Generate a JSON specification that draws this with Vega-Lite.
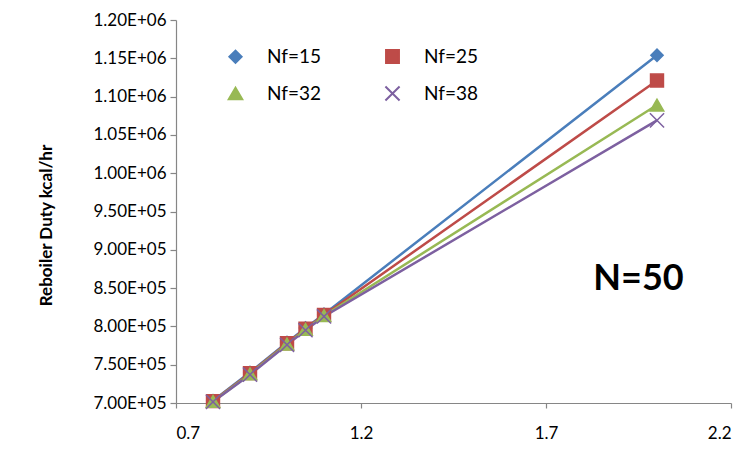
{
  "$schema": "https://vega.github.io/schema/vega-lite/v6.json",
  "autosize": "none",
  "width": 555,
  "height": 383,
  "padding": {"left": 176, "top": 20, "right": 17, "bottom": 52},
  "background": "white",
  "config": {
    "view": {"stroke": null},
    "font": "Lato",
    "axis": {"grid": false, "domainColor": "#868686", "tickColor": "#868686", "labelColor": "#000000", "labelFont": "Lato", "labelFontSize": 17, "domainWidth": 1.2, "tickWidth": 1.2, "tickSize": 6}
  },
  "data": {"values": [
    {"series": "Nf=15", "x": 0.8, "y": 703000},
    {"series": "Nf=15", "x": 0.9, "y": 740000},
    {"series": "Nf=15", "x": 1.0, "y": 779000},
    {"series": "Nf=15", "x": 1.05, "y": 798000},
    {"series": "Nf=15", "x": 1.1, "y": 816000},
    {"series": "Nf=15", "x": 2.0, "y": 1154000},
    {"series": "Nf=25", "x": 0.8, "y": 702500},
    {"series": "Nf=25", "x": 0.9, "y": 739000},
    {"series": "Nf=25", "x": 1.0, "y": 778000},
    {"series": "Nf=25", "x": 1.05, "y": 797000},
    {"series": "Nf=25", "x": 1.1, "y": 815000},
    {"series": "Nf=25", "x": 2.0, "y": 1121000},
    {"series": "Nf=32", "x": 0.8, "y": 702000},
    {"series": "Nf=32", "x": 0.9, "y": 738000},
    {"series": "Nf=32", "x": 1.0, "y": 777000},
    {"series": "Nf=32", "x": 1.05, "y": 796000},
    {"series": "Nf=32", "x": 1.1, "y": 814000},
    {"series": "Nf=32", "x": 2.0, "y": 1089000},
    {"series": "Nf=38", "x": 0.8, "y": 701500},
    {"series": "Nf=38", "x": 0.9, "y": 737000},
    {"series": "Nf=38", "x": 1.0, "y": 776000},
    {"series": "Nf=38", "x": 1.05, "y": 795000},
    {"series": "Nf=38", "x": 1.1, "y": 813000},
    {"series": "Nf=38", "x": 2.0, "y": 1069000}
  ]},
  "encoding": {
    "x": {"field": "x", "type": "quantitative", "scale": {"domain": [0.7, 2.2], "nice": false, "zero": false},
      "axis": {"values": [0.7, 1.2, 1.7, 2.2], "format": ".1f", "title": null, "labelPadding": 17, "tickSize": 5}},
    "y": {"field": "y", "type": "quantitative", "scale": {"domain": [700000, 1200000], "nice": false, "zero": false},
      "axis": {"values": [700000, 750000, 800000, 850000, 900000, 950000, 1000000, 1050000, 1100000, 1150000, 1200000],
        "labelExpr": "format(datum.value/pow(10, floor(log(datum.value)/LN10+1e-9)), '.2f') + 'E+' + format(floor(log(datum.value)/LN10+1e-9), '02d')",
        "title": "Reboiler Duty kcal/hr", "titleFont": "Lato", "titleFontSize": 17, "titleFontWeight": "bold", "titleColor": "#000000", "titlePadding": 38, "titleY": 205, "labelPadding": 4}}
  },
  "layer": [
    {
      "mark": {"type": "line", "strokeWidth": 2.5},
      "encoding": {
        "color": {"field": "series", "type": "nominal", "scale": {"domain": ["Nf=15", "Nf=25", "Nf=32", "Nf=38"], "range": ["#4a7ebb", "#be4b48", "#98b954", "#7d60a0"]},
          "legend": {
            "title": null, "orient": "none", "legendX": 50, "legendY": 27, "direction": "horizontal", "columns": 2, "columnPadding": 60, "rowPadding": 15,
            "labelFont": "Lato", "labelFontSize": 19, "labelColor": "#000000", "labelOffset": 22, "symbolStrokeWidth": 2
          }}
      }
    },
    {
      "mark": {"type": "point", "filled": true, "opacity": 1, "strokeWidth": 1.5},
      "encoding": {
        "fill": {"field": "series", "type": "nominal", "scale": {"domain": ["Nf=15", "Nf=25", "Nf=32", "Nf=38"], "range": ["#4a7ebb", "#be4b48", "#98b954", "#7d60a0"]}, "legend": null},
        "stroke": {"field": "series", "type": "nominal", "scale": {"domain": ["Nf=15", "Nf=25", "Nf=32", "Nf=38"], "range": ["#4a7ebb", "#be4b48", "#98b954", "#7d60a0"]}, "legend": null},
        "shape": {"field": "series", "type": "nominal", "scale": {"domain": ["Nf=15", "Nf=25", "Nf=32", "Nf=38"], "range": ["diamond", "square", "triangle-up", "M-1,-1L1,1M-1,1L1,-1"]}, "legend": null},
        "size": {"field": "series", "type": "nominal", "scale": {"domain": ["Nf=15", "Nf=25", "Nf=32", "Nf=38"], "range": [150, 200, 150, 60]}, "legend": null}
      }
    },
    {
      "data": {"values": [{"label": "N=50", "x": 1.95, "y": 862000}]},
      "mark": {"type": "text", "font": "Lato", "fontSize": 36, "fontWeight": "bold", "color": "#000000", "align": "center", "baseline": "middle"},
      "encoding": {"text": {"field": "label"}}
    }
  ]
}
